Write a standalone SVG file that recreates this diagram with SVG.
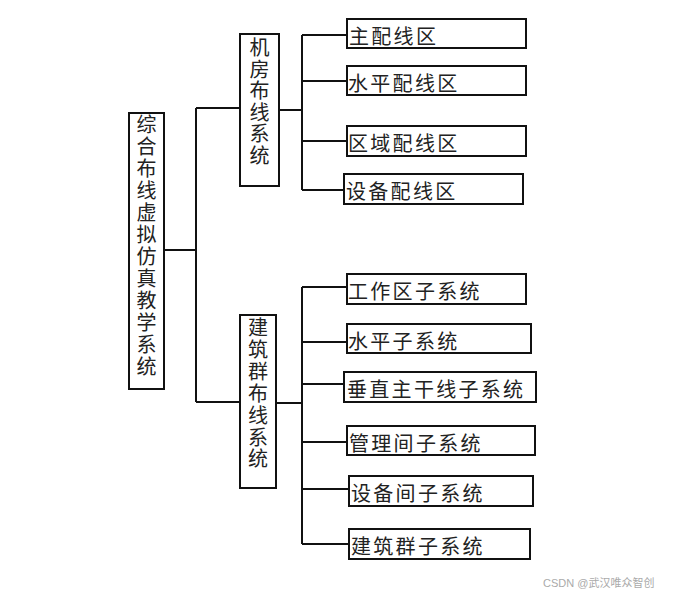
<svg xmlns="http://www.w3.org/2000/svg" width="674" height="596" viewBox="0 0 674 596">
<style>
.box{fill:#fff;stroke:#111;stroke-width:2}
.ln{fill:none;stroke:#111;stroke-width:2}
.t{font-family:"Liberation Serif","Noto Sans CJK SC",serif;font-size:20px;fill:#222;letter-spacing:2.3px}
.v{font-family:"Liberation Serif","Noto Sans CJK SC",serif;font-size:20px;fill:#222;text-anchor:middle}
.wm{font-family:"Liberation Sans","Noto Sans CJK SC",sans-serif;font-size:11px;fill:#aaa}
</style>
<rect width="674" height="596" fill="#fff"/>
<g id="connectors">
<path class="ln" d="M164 250H196M196 108V402M196 108H240M196 402H240"/>
<path class="ln" d="M279 110H302M302 35V190M302 35H347M302 81H347M302 141H347M302 190H344"/>
<path class="ln" d="M276 403H302M302 287V544M302 287H347M302 342H347M302 384H344M302 442H347M302 489H349M302 544H349"/>
</g>
<g id="root">
<rect class="box" x="129" y="113" width="35" height="276"/>
<text class="v" x="146.5" y="132"><tspan x="146.5">综</tspan><tspan x="146.5" dy="22">合</tspan><tspan x="146.5" dy="22">布</tspan><tspan x="146.5" dy="22">线</tspan><tspan x="146.5" dy="22">虚</tspan><tspan x="146.5" dy="22">拟</tspan><tspan x="146.5" dy="22">仿</tspan><tspan x="146.5" dy="22">真</tspan><tspan x="146.5" dy="22">教</tspan><tspan x="146.5" dy="22">学</tspan><tspan x="146.5" dy="22">系</tspan><tspan x="146.5" dy="22">统</tspan></text>
</g>
<g id="jifang">
<rect class="box" x="240" y="34" width="39" height="152"/>
<text class="v" x="259.5" y="55"><tspan x="259.5">机</tspan><tspan x="259.5" dy="21.6">房</tspan><tspan x="259.5" dy="21.6">布</tspan><tspan x="259.5" dy="21.6">线</tspan><tspan x="259.5" dy="21.6">系</tspan><tspan x="259.5" dy="21.6">统</tspan></text>
</g>
<g id="jianzhuqun">
<rect class="box" x="240" y="315" width="36" height="173"/>
<text class="v" x="258" y="335"><tspan x="258">建</tspan><tspan x="258" dy="21.9">筑</tspan><tspan x="258" dy="21.9">群</tspan><tspan x="258" dy="21.9">布</tspan><tspan x="258" dy="21.9">线</tspan><tspan x="258" dy="21.9">系</tspan><tspan x="258" dy="21.9">统</tspan></text>
</g>
<g id="n1"><rect class="box" x="347" y="19" width="179" height="29"/><text class="t" x="349" y="37" dominant-baseline="central">主配线区</text></g>
<g id="n2"><rect class="box" x="347" y="66" width="179" height="29"/><text class="t" x="348" y="83.5" dominant-baseline="central">水平配线区</text></g>
<g id="n3"><rect class="box" x="347" y="126" width="179" height="30"/><text class="t" x="348" y="144" dominant-baseline="central">区域配线区</text></g>
<g id="n4"><rect class="box" x="344" y="174" width="179" height="30"/><text class="t" x="346" y="192" dominant-baseline="central">设备配线区</text></g>
<g id="n5"><rect class="box" x="347" y="274" width="179" height="30"/><text class="t" x="348" y="292" dominant-baseline="central">工作区子系统</text></g>
<g id="n6"><rect class="box" x="347" y="324" width="184" height="29"/><text class="t" x="348" y="341.5" dominant-baseline="central">水平子系统</text></g>
<g id="n7"><rect class="box" x="344" y="372" width="192" height="30"/><text class="t" x="347" y="390" dominant-baseline="central">垂直主干线子系统</text></g>
<g id="n8"><rect class="box" x="347" y="426" width="188" height="29"/><text class="t" x="349" y="443.5" dominant-baseline="central">管理间子系统</text></g>
<g id="n9"><rect class="box" x="349" y="476" width="184" height="30"/><text class="t" x="351" y="494" dominant-baseline="central">设备间子系统</text></g>
<g id="n10"><rect class="box" x="349" y="529" width="181" height="30"/><text class="t" x="351" y="547" dominant-baseline="central">建筑群子系统</text></g>
<text class="wm" x="543" y="587">CSDN @武汉唯众智创</text>
</svg>
